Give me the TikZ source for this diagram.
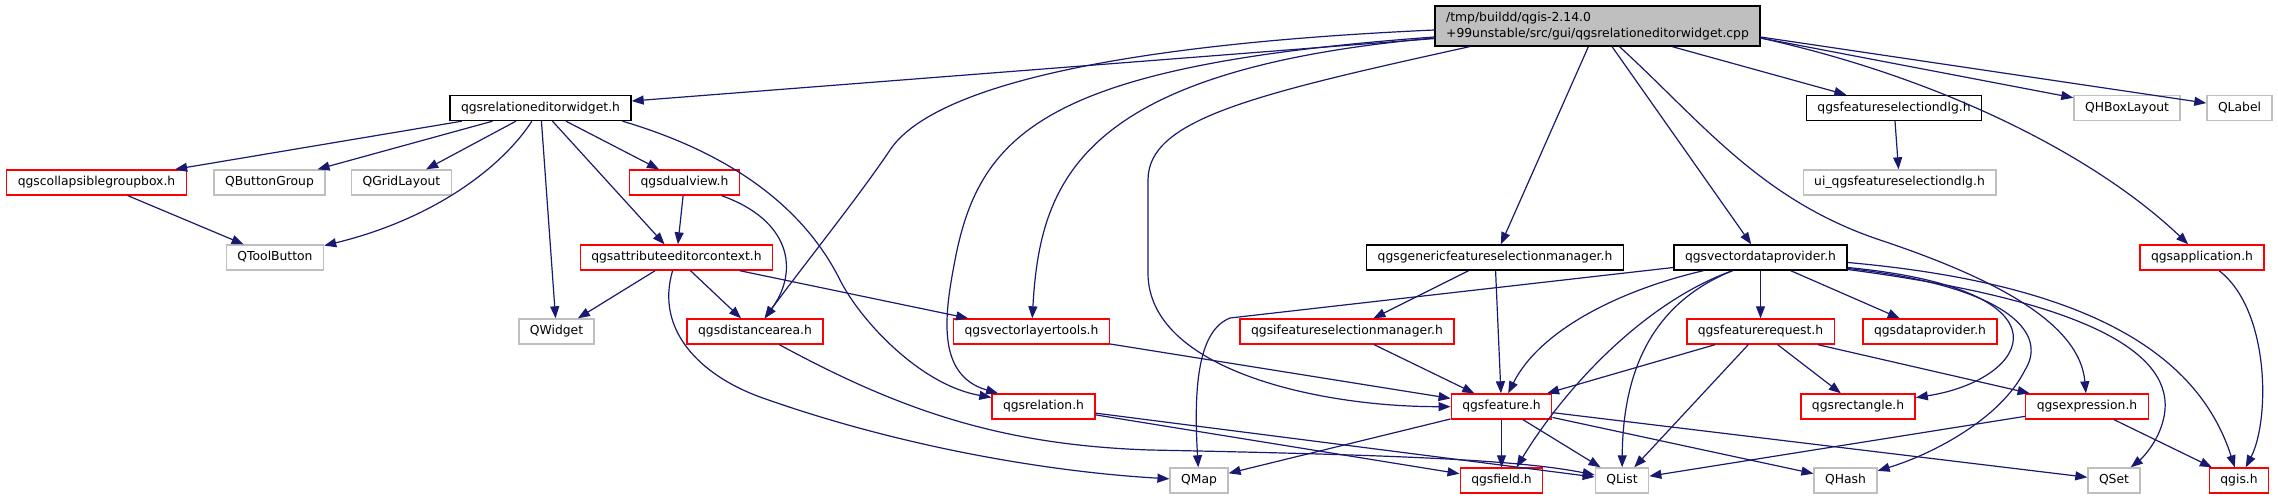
\documentclass[tikz,border=0pt]{standalone}
\usepackage{fontspec}
\setmainfont{DejaVu Sans}
\usepackage{xcolor}
\usepackage{tikz}
\usetikzlibrary{arrows.meta,calc}
\definecolor{edgeblue}{RGB}{25,25,112}
\definecolor{extgray}{RGB}{191,191,191}

\begin{document}
\begin{tikzpicture}[x=1bp,y=-1bp,
    box/.style={draw,line width=1.4bp,fill=white,minimum height=25bp,
      inner xsep=11bp,inner ysep=0pt,text height=9.4bp,text depth=3bp,
      font=\fontsize{12.4}{15}\selectfont},
    doc/.style={box,draw=black},
    inc/.style={box,draw=red},
    ext/.style={box,draw=extgray},
    dep/.style={edgeblue,line width=1.2bp,-{Triangle[length=12bp,width=9bp]}}]

        \useasboundingbox (0,0) rectangle (2278,500);

        % Source file
        \node[draw=black,line width=1.4bp,fill=extgray,align=left,minimum height=40bp,
              inner xsep=11bp,inner ysep=0pt,font=\fontsize{12.4}{15.5}\selectfont]
          (R) at (1597.5,26) {/tmp/buildd/qgis-2.14.0\\+99unstable/src/gui/qgsrelationeditorwidget.cpp};

        % Row 1
        \node[doc] (relw)  at (540.5,108) {qgsrelationeditorwidget.h};
        \node[doc] (fsdlg) at (1894,108)  {qgsfeatureselectiondlg.h};
        \node[ext] (hbox)  at (2127,108)  {QHBoxLayout};
        \node[ext] (label) at (2239.5,108) {QLabel};

        % Row 2
        \node[inc] (cgb)    at (96.5,182.5)  {qgscollapsiblegroupbox.h};
        \node[ext] (btngrp) at (269.5,182.5) {QButtonGroup};
        \node[ext] (grid)   at (401.5,182.5) {QGridLayout};
        \node[inc] (dual)   at (684.5,182.5) {qgsdualview.h};
        \node[ext] (uidlg)  at (1899.5,182.5) {ui\_qgsfeatureselectiondlg.h};

        % Row 3
        \node[ext] (toolbtn) at (275,257.5)    {QToolButton};
        \node[inc] (aec)     at (676.5,257.5)  {qgsattributeeditorcontext.h};
        \node[doc] (gfsm)    at (1495,257.5)   {qgsgenericfeatureselectionmanager.h};
        \node[doc] (vdp)     at (1760.5,257.5) {qgsvectordataprovider.h};
        \node[inc] (app)     at (2202,257.5)   {qgsapplication.h};

        % Row 4
        \node[ext] (widget) at (556.5,331.5)  {QWidget};
        \node[inc] (dist)   at (755,331.5)    {qgsdistancearea.h};
        \node[inc] (vlt)    at (1031.5,331.5) {qgsvectorlayertools.h};
        \node[inc] (ifsm)   at (1347,331.5)   {qgsifeatureselectionmanager.h};
        \node[inc] (freq)   at (1760.5,331.5) {qgsfeaturerequest.h};
        \node[inc] (dprov)  at (1930,331.5)   {qgsdataprovider.h};

        % Row 5
        \node[inc] (rel)  at (1043.5,406.5) {qgsrelation.h};
        \node[inc] (feat) at (1501.5,406.5) {qgsfeature.h};
        \node[inc] (rect) at (1858,406.5)   {qgsrectangle.h};
        \node[inc] (expr) at (2087,406.5)   {qgsexpression.h};

        % Row 6
        \node[ext] (qmap)  at (1199,480.5)   {QMap};
        \node[inc] (field) at (1501.5,480.5) {qgsfield.h};
        \node[ext] (qlist) at (1622,480.5)   {QList};
        \node[ext] (qhash) at (1845.5,480.5) {QHash};
        \node[ext] (qset)  at (2114,480.5)   {QSet};
        \node[inc] (qgis)  at (2239,480.5)   {qgis.h};

        % Includes of the source file
        \draw[dep] (R) -- (relw);
        \draw[dep] (R) -- (gfsm);
        \draw[dep] (R) -- (vdp);
        \draw[dep] (R) -- (fsdlg);
        \draw[dep] ([yshift=-12bp]R.east) -- (hbox);
        \draw[dep] ([yshift=-11bp]R.east) -- (label);
        \draw[dep] ([yshift=-12bp]R.east) .. controls (1950,80) and (2100,160) .. (app);
        \draw[dep] ([yshift=-4bp]R.west) .. controls (1100,45) and (930,90) .. (890,150)
                    .. controls (860,195) and (800,270) .. (dist);
        \draw[dep] ([yshift=-12bp]R.west) .. controls (1080,70) and (1040,180) .. (vlt);
        \draw[dep] ([yshift=-11bp]R.west) .. controls (1050,65) and (980,130) .. (955,260)
                    .. controls (945,312) and (935,375) .. (rel);
        \draw[dep] ([xshift=35bp]R.south west) .. controls (1250,95) and (1148,120) .. (1148,180)
                    -- (1148,273) .. controls (1148,370) and (1320,407) .. (feat);
        \draw[dep] ([xshift=22bp]R.south) .. controls (1700,120) and (1760,200) .. (1880,240)
                    .. controls (2000,280) and (2080,325) .. (expr);

        % Widget header
        \draw[dep] (relw) -- (cgb);
        \draw[dep] (relw) -- (btngrp);
        \draw[dep] (relw) -- (grid);
        \draw[dep] (relw) -- (widget);
        \draw[dep] (relw) -- (aec);
        \draw[dep] (relw) -- (dual);
        \draw[dep] (relw) .. controls (500,170) and (430,220) .. (toolbtn);
        \draw[dep] ([xshift=82bp]relw.south) .. controls (720,150) and (800,200) .. (840,280)
                    .. controls (860,320) and (920,385) .. (rel);
        \draw[dep] (cgb) -- (toolbtn);
        \draw[dep] (fsdlg) -- (uidlg);

        % Dual view and context
        \draw[dep] (dual) -- (aec);
        \draw[dep] (dual) .. controls (790,220) and (800,270) .. (dist);
        \draw[dep] (aec) -- (widget);
        \draw[dep] (aec) -- (dist);
        \draw[dep] (aec) -- (vlt);
        \draw[dep] (aec) .. controls (655,330) and (700,375) .. (760,397)
                    .. controls (900,447) and (1050,472) .. (qmap);
        \draw[dep] (dist) .. controls (900,410) and (1000,445) .. (1150,450)
                    .. controls (1400,455) and (1520,460) .. (qlist);

        % Feature selection
        \draw[dep] (gfsm) -- (ifsm);
        \draw[dep] (gfsm) -- (feat);
        \draw[dep] (ifsm) -- (feat);
        \draw[dep] (vlt) -- (feat);
        \draw[dep] (rel) -- (field);
        \draw[dep] (rel) -- (qlist);

        % Feature
        \draw[dep] (feat) -- (qmap);
        \draw[dep] (feat) -- (field);
        \draw[dep] (feat) -- (qlist);
        \draw[dep] (feat) -- (qhash);
        \draw[dep] (feat) -- (qset);

        % Data provider
        \draw[dep] (vdp) -- (freq);
        \draw[dep] (vdp) -- (dprov);
        \draw[dep] ([yshift=-10bp]vdp.west) -- (1230,318) .. controls (1200,330) and (1193,380) .. (qmap);
        \draw[dep] (vdp) .. controls (1620,290) and (1540,330) .. (feat);
        \draw[dep] ([xshift=-28bp]vdp.south) .. controls (1650,300) and (1570,380) .. ([xshift=15bp]field.north);
        \draw[dep] ([xshift=-28bp]vdp.south) .. controls (1660,300) and (1623,360) .. (qlist);
        \draw[dep] ([yshift=-10bp]vdp.east) .. controls (2080,290) and (2030,380) .. (rect);
        \draw[dep] ([yshift=-11bp]vdp.east) .. controls (2000,285) and (2050,330) .. (2025,370)
                    .. controls (2000,420) and (1930,455) .. (qhash);
        \draw[dep] ([yshift=-12bp]vdp.east) .. controls (2080,300) and (2170,350) .. (2165,410)
                    .. controls (2162,440) and (2140,460) .. (qset);
        \draw[dep] ([yshift=-5bp]vdp.east) .. controls (2100,285) and (2200,360) .. (qgis);

        % Feature request and expression
        \draw[dep] (freq) -- (feat);
        \draw[dep] (freq) -- (qlist);
        \draw[dep] (freq) -- (rect);
        \draw[dep] (freq) -- (expr);
        \draw[dep] (expr) -- (qlist);
        \draw[dep] (expr) -- (qgis);
        \draw[dep] (app) .. controls (2270,310) and (2270,420) .. (qgis);
      \end{tikzpicture}
\end{document}
